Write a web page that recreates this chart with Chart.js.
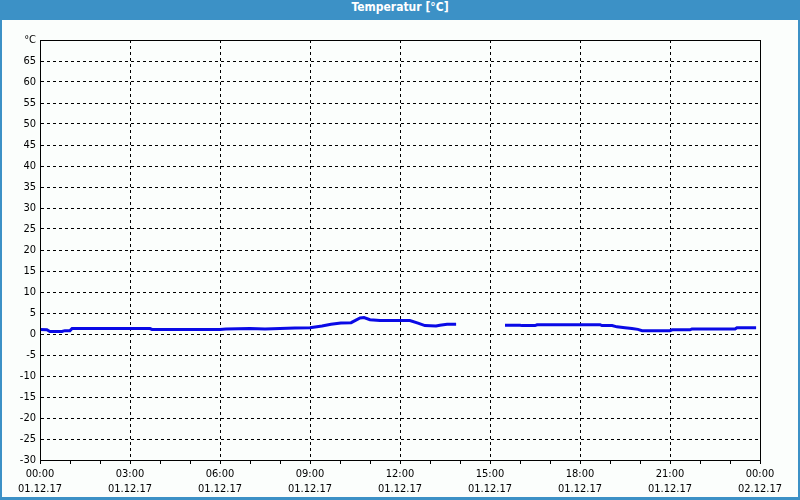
<!DOCTYPE html>
<html>
<head>
<meta charset="utf-8">
<script src="https://cdn.jsdelivr.net/npm/chart.js@4.4.0/dist/chart.umd.min.js"></script>
<style>
  html, body { margin: 0; padding: 0; }
  body { width: 800px; height: 500px; background: #3c91c6; position: relative; overflow: hidden; }
  .title { position: absolute; left: 0; top: 0; width: 800px; height: 20px; line-height: 20px;
           text-align: center; color: #fff; font: bold 12px "DejaVu Sans Condensed", "Liberation Sans", sans-serif; }
  .panel { position: absolute; left: 2px; top: 20px; width: 796px; height: 477px; background: #fbfefc; }
</style>
</head>
<body>
<div class="title">Temperatur [°C]</div>
<div class="panel"><canvas id="chart" width="796" height="477"></canvas></div>
<script>
// hours since 01.12.17 00:00, null temp = no data
const times = [0, 0.23, 0.33, 0.73, 0.83, 1.0, 1.07, 3.67, 3.73, 6.0, 6.2, 7.0, 7.5, 8.5, 9.0,
  9.4, 9.7, 10.03, 10.37, 10.67, 10.8, 11.0, 11.33, 12.33, 12.6, 12.83, 13.2, 13.33, 13.57, 13.87,
  14.7,
  15.5, 16.0, 16.07, 16.5, 16.57, 18.67, 18.73, 19.07, 19.23, 19.5, 19.73, 19.93, 20.07, 21.0,
  21.07, 21.67, 21.73, 23.17, 23.23, 23.87];
const temps = [1.1, 1.0, 0.6, 0.6, 0.8, 0.8, 1.3, 1.3, 1.1, 1.1, 1.2, 1.3, 1.2, 1.4, 1.5,
  1.9, 2.3, 2.6, 2.7, 3.8, 3.9, 3.4, 3.2, 3.2, 2.6, 2.0, 1.9, 2.1, 2.3, 2.3,
  null,
  2.1, 2.1, 2.0, 2.0, 2.2, 2.2, 2.0, 2.0, 1.7, 1.5, 1.3, 1.1, 0.8, 0.8,
  1.0, 1.0, 1.2, 1.2, 1.5, 1.5];
const hourLabels = ['00:00', '03:00', '06:00', '09:00', '12:00', '15:00', '18:00', '21:00', '00:00'];
const dateLabels = ['01.12.17', '01.12.17', '01.12.17', '01.12.17', '01.12.17', '01.12.17', '01.12.17', '01.12.17', '02.12.17'];
const yUnit = '°C';

const fontFam = '"DejaVu Sans Condensed", "Liberation Sans", sans-serif';

const frame = {
  id: 'frame',
  afterDatasetsDraw(chart) {
    const a = chart.chartArea, c = chart.ctx;
    c.save();
    c.strokeStyle = '#000';
    c.lineWidth = 1;
    c.strokeRect(Math.round(a.left) + 0.5, Math.round(a.top) + 0.5, Math.round(a.right - a.left), Math.round(a.bottom - a.top));
    c.restore();
  }
};

new Chart(document.getElementById('chart'), {
  type: 'line',
  data: {
    datasets: [{
      data: times.map((t, i) => ({ x: t, y: temps[i] })),
      borderColor: '#0a0ae6',
      borderWidth: 3,
      pointRadius: 0,
      tension: 0,
      spanGaps: false
    }]
  },
  options: {
    responsive: false,
    animation: false,
    layout: { padding: { top: 20, right: 38, left: 0, bottom: 0 } },
    plugins: { legend: { display: false }, tooltip: { enabled: false } },
    scales: {
      x: {
        type: 'linear', min: 0, max: 24,
        afterFit(s) { s.height = 37; },
        grid: {
          color: c => (c.tick && c.tick.value % 3 === 0) ? '#000' : 'rgba(0,0,0,0)',
          tickColor: '#000', tickLength: 4, lineWidth: 1
        },
        border: { display: true, color: '#000', dash: [3, 3] },
        ticks: {
          stepSize: 1, autoSkip: false, maxRotation: 0, padding: 3,
          color: '#000', font: { family: fontFam, size: 11, lineHeight: 1.35 },
          callback: v => v % 3 === 0 ? [hourLabels[v / 3], dateLabels[v / 3]] : ''
        }
      },
      y: {
        min: -30, max: 70,
        afterFit(s) { s.width = 38; },
        grid: { color: '#000', drawTicks: false, lineWidth: 1 },
        border: { display: true, color: '#000', dash: [3, 3] },
        ticks: {
          stepSize: 5, padding: 4, color: '#000',
          font: { family: fontFam, size: 11 },
          callback: v => v === 70 ? yUnit : v
        }
      }
    }
  },
  plugins: [frame]
});
</script>
</body>
</html>
